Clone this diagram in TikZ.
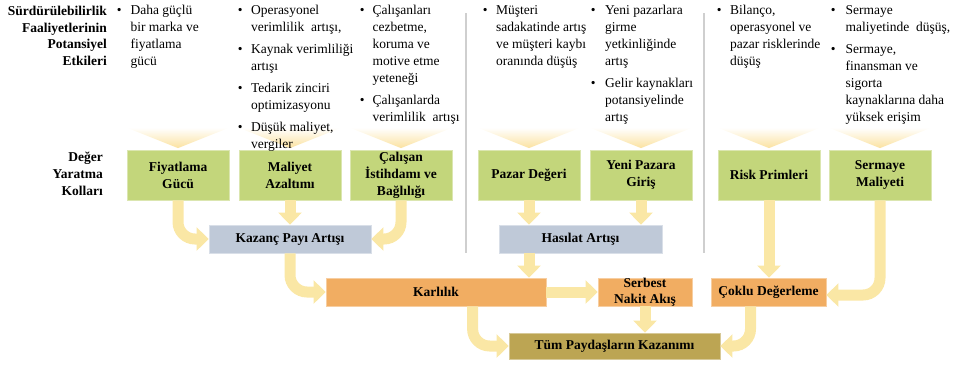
\documentclass[tikz,border=0pt]{standalone}
\usepackage{fontspec}
\setmainfont{Liberation Serif}
\usetikzlibrary{arrows.meta}
\definecolor{grn}{HTML}{C3D67B}
\definecolor{blu}{HTML}{BFC9D8}
\definecolor{org}{HTML}{F1AD62}
\definecolor{olv}{HTML}{BCA553}
\definecolor{arr}{HTML}{FAE7A5}
\definecolor{chev}{HTML}{FBE2A0}
\definecolor{sepc}{HTML}{CFCFCF}
\begin{document}
\begin{tikzpicture}[x=1pt,y=-1pt,
  box/.style={inner sep=0pt, line width=0.8pt, font=\bfseries\fontsize{13.5}{17}\selectfont, align=center},
  gbox/.style={box, fill=grn, draw=grn!60!white, minimum width=102pt, minimum height=50pt},
  bbox/.style={box, fill=blu, draw=blu!60!white, minimum height=28pt},
  obox/.style={box, fill=org, draw=org!60!white, minimum height=28pt},
  ybox/.style={box, fill=olv, draw=olv!60!white, minimum height=26pt},
  btxt/.style={anchor=north west, inner sep=0pt, font=\fontsize{13.5}{17}\selectfont},
  head/.style={anchor=north east, inner sep=0pt, font=\bfseries\fontsize{13.5}{16.5}\selectfont},
  flow/.style={draw=arr, line width=11pt, rounded corners=17pt, -{Triangle[width=23pt,length=12pt]}},
  chevshade/.style={top color=white, bottom color=chev},
  sepline/.style={draw=sepc, line width=1.3pt}
]
\useasboundingbox (0,0) rectangle (959,365);

% separators
\draw[sepline] (466,13) -- (466,253);
\draw[sepline] (704,13) -- (704,253);

% green boxes
\node[gbox] (g1) at (178,175) {Fiyatlama\\Gücü};
\node[gbox] (g2) at (290,175) {Maliyet\\Azaltımı};
\node[gbox] (g3) at (401,175) {Çalışan\\İstihdamı ve\\Bağlılığı};
\node[gbox] (g4) at (529,175) {Pazar Değeri};
\node[gbox] (g5) at (641,175) {\raisebox{-3pt}{\begin{tabular}{@{}c@{}}Yeni Pazara\\Giriş\end{tabular}}};
\node[gbox] (g6) at (769,175) {Risk Primleri};
\node[gbox] (g7) at (880,175) {Sermaye\\Maliyeti};

% chevrons
\foreach \b in {g1,g2,g3,g4,g5,g6,g7}{
  \shade[chevshade] ([yshift=22pt]\b.north west) -- ([yshift=22pt]\b.north east) -- ([yshift=1.5pt]\b.north) -- cycle;
}

% other boxes
\node[bbox, minimum width=162pt] (kaz) at (290,239) {Kazanç Payı Artışı};
\node[bbox, minimum width=163pt] (has) at (580.5,239) {Hasılat Artışı};
\node[obox, minimum width=220pt] (kar) at (436,292) {Karlılık};
\node[obox, minimum width=94pt, font=\bfseries\fontsize{13.5}{16}\selectfont] (ser) at (645,292) {Serbest\\Nakit Akış};
\node[obox, minimum width=115pt] (cok) at (768.5,292) {Çoklu Değerleme};
\node[ybox, minimum width=211pt] (tum) at (614.5,346) {Tüm Paydaşların Kazanımı};

% connectors
\draw[flow] (g1.south) |- (kaz.west);
\draw[flow] (g2.south) -- (kaz.north);
\draw[flow] (g3.south) |- (kaz.east);
\draw[flow] (kaz.south) |- (kar.west);
\draw[flow] (g4.south) -- (g4.south |- has.north);
\draw[flow] (g5.south) -- (g5.south |- has.north);
\draw[flow] (g4.south |- has.south) -- (g4.south |- kar.north);
\draw[flow] (kar.east) -- (ser.west);
\draw[flow] ([xshift=147pt]kar.south west) |- (tum.west);
\draw[flow] (ser.south) -- (ser.south |- tum.north);
\draw[flow] (g6.south) -- (g6.south |- cok.north);
\draw[flow] (g7.south) |- ([yshift=-3pt]cok.east);
\draw[flow] ([xshift=-18pt]cok.south) |- (tum.east);

% headings
\node[head] (h1) at (107,3.8) {\begin{tabular}{@{}r@{}}Sürdürülebilirlik\\Faaliyetlerinin\\Potansiyel\\Etkileri\end{tabular}};
\node[head, font=\bfseries\fontsize{13.5}{17}\selectfont] (h2) at (103,149) {\begin{tabular}{@{}r@{}}Değer\\Yaratma\\Kolları\end{tabular}};

% bullet columns
\node[btxt] (c1) at (116.6,2.6) {\begin{tabular}{@{}l@{\hspace{9pt}}l@{}}•&Daha güçlü\\&bir marka ve\\&fiyatlama\\&gücü\end{tabular}};
\node[btxt] (c2) at (237.6,2.6) {\begin{tabular}{@{}l@{\hspace{8.5pt}}l@{}}•&Operasyonel\\&verimlilik\ \ artışı,\\[5pt]•&Kaynak verimliliği\\&artışı\\[5pt]•&Tedarik zinciri\\&optimizasyonu\\[5pt]•&Düşük maliyet,\\&vergiler\end{tabular}};
\node[btxt] (c3) at (359.6,2.6) {\begin{tabular}{@{}l@{\hspace{8pt}}l@{}}•&Çalışanları\\&cezbetme,\\&koruma ve\\&motive etme\\&yeteneği\\[5pt]•&Çalışanlarda\\&verimlilik\ \ artışı\end{tabular}};
\node[btxt] (c4) at (482.6,2.6) {\begin{tabular}{@{}l@{\hspace{8.5pt}}l@{}}•&Müşteri\\&sadakatinde artış\\&ve müşteri kaybı\\&oranında düşüş\end{tabular}};
\node[btxt] (c5) at (590.6,2.6) {\begin{tabular}{@{}l@{\hspace{9.5pt}}l@{}}•&Yeni pazarlara\\&girme\\&yetkinliğinde\\&artış\\[5pt]•&Gelir kaynakları\\&potansiyelinde\\&artış\end{tabular}};
\node[btxt] (c6) at (716.6,2.6) {\begin{tabular}{@{}l@{\hspace{8.5pt}}l@{}}•&Bilanço,\\&operasyonel ve\\&pazar risklerinde\\&düşüş\end{tabular}};
\node[btxt] (c7) at (830.6,2.6) {\begin{tabular}{@{}l@{\hspace{10pt}}l@{}}•&Sermaye\\&maliyetinde\ \ düşüş,\\[5pt]•&Sermaye,\\&finansman ve\\&sigorta\\&kaynaklarına daha\\&yüksek erişim\end{tabular}};
\end{tikzpicture}
\end{document}
